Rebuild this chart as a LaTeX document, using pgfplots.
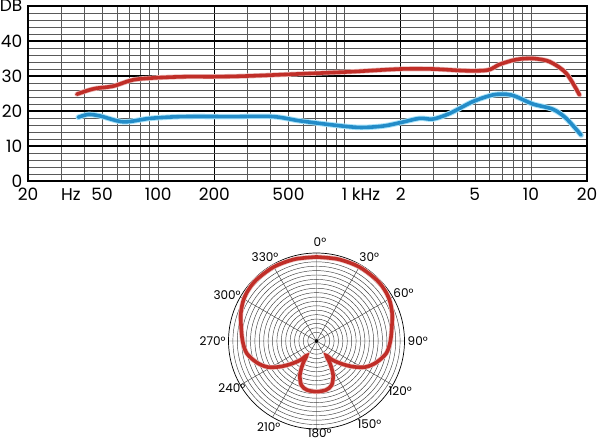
\documentclass[border=0pt]{standalone}
\usepackage{fontspec}
\setmainfont{Poppins}
\usepackage{pgfplots}
\pgfplotsset{compat=1.18}
\usepgfplotslibrary{polar}
\definecolor{curvered}{RGB}{192,46,40}
\definecolor{curveblue}{RGB}{35,140,200}
\begin{document}
\begin{tikzpicture}
\useasboundingbox (0,0) rectangle (600pt,442pt);
\begin{axis}[
  at={(28pt,261pt)}, anchor=south west,
  scale only axis, width=559pt, height=175pt,
  xmode=log, xmin=20, xmax=20000, ymin=0, ymax=50,
  xtick={200,2000}, xticklabels={200,2},
  extra x ticks={20,50,100,500,1000,5000,10000,20000},
  extra x tick labels={20,50,100,500,1\rlap{ kHz},5,10,20},
  extra x tick style={grid=none},
  minor xtick={30,40,50,60,70,80,90,100,300,400,500,600,700,800,900,1000,3000,4000,5000,6000,7000,8000,9000,10000},
  xmajorgrids=true, xminorgrids=true,
  ytick={0,10,20,30,40,50}, yticklabels={0,10,20,30,40,DB},
  minor ytick={2,4,6,8,12,14,16,18,22,24,26,28,32,34,36,38,42,44,46,48},
  ymajorgrids=true, yminorgrids=true,
  major grid style={black, line width=1.6pt},
  minor grid style={black!65, line width=0.5pt},
  tick style={draw=none},
  axis line style={black, line width=1.5pt},
  ticklabel style={font=\fontsize{17}{18}\selectfont},
  xticklabel style={inner sep=0pt, yshift=-7pt},
  yticklabel style={inner sep=0pt, xshift=-5.5pt},
  /pgf/number format/assume math mode=true,
  clip=false,
]
\addplot[curvered!35, line width=5pt, smooth, line cap=round] table {
36.6 24.8
42 25.9
46.7 26.5
57.3 27.1
73.3 28.9
97.9 29.5
141 29.8
200 29.8
300 30.0
574 30.6
1065 31.2
2000 32.0
2980 32.0
4500 31.5
5880 31.7
6790 33.3
8340 34.7
10240 35.0
12590 34.1
15460 30.8
18230 24.6
};
\addplot[curvered, line width=3.6pt, smooth, line cap=round] table {
36.6 24.8
42 25.9
46.7 26.5
57.3 27.1
73.3 28.9
97.9 29.5
141 29.8
200 29.8
300 30.0
574 30.6
1065 31.2
2000 32.0
2980 32.0
4500 31.5
5880 31.7
6790 33.3
8340 34.7
10240 35.0
12590 34.1
15460 30.8
18230 24.6
};
\addplot[cyan!35, line width=5.5pt, smooth, line cap=round] table {
37.2 18.2
42 19.0
48.6 18.6
65.1 16.9
90.6 17.9
136 18.4
251 18.4
413 18.4
574 17.2
867 16.0
1206 15.3
1609 15.7
2000 16.7
2529 17.9
2980 17.7
3664 19.3
4885 22.7
6250 24.6
7380 24.8
8340 24.1
10240 22.0
13120 20.5
15460 17.9
18610 13.1
};
\addplot[curveblue, line width=3.6pt, smooth, line cap=round] table {
37.2 18.2
42 19.0
48.6 18.6
65.1 16.9
90.6 17.9
136 18.4
251 18.4
413 18.4
574 17.2
867 16.0
1206 15.3
1609 15.7
2000 16.7
2529 17.9
2980 17.7
3664 19.3
4885 22.7
6250 24.6
7380 24.8
8340 24.1
10240 22.0
13120 20.5
15460 17.9
18610 13.1
};
\node[anchor=north, inner sep=0pt, yshift=-7pt, font=\fontsize{17}{18}\selectfont] at (axis cs:34,0) {Hz};
\end{axis}

\begin{polaraxis}[
  at={(316.5pt,101pt)}, anchor=center,
  scale only axis, width=176pt, height=176pt,
  xmin=0, xmax=360, ymin=0, ymax=1,
  xtick={0,30,...,330}, xticklabels={},
  ytick={0.1,0.15,0.2,0.25,0.3,0.35,0.4,0.45,0.5,0.55,0.6,0.65,0.7,0.75,0.8,0.85,0.9,0.95},
  yticklabels={},
  xmajorgrids=true, ymajorgrids=true,
  major grid style={black!75, line width=0.45pt},
  tick style={draw=none},
  axis line style={black, line width=0.7pt},
  y axis line style={draw=none},
  clip=false,
]
\addplot[curvered!30, line width=5pt, smooth] coordinates {
(90,0.955) (75,0.962) (60,0.972) (45,0.975) (35,0.965) (28,0.947) (20,0.915) (12,0.877)
(0,0.840) (350,0.805) (340,0.72) (332,0.63) (325,0.51) (318,0.39) (310,0.28) (304,0.20)
(301,0.30) (296,0.43) (289,0.53) (281,0.567) (270,0.576) (259,0.567) (251,0.53) (244,0.43)
(239,0.30) (236,0.20) (230,0.28) (222,0.39) (215,0.51) (208,0.63) (200,0.72) (190,0.805)
(180,0.840) (168,0.877) (160,0.915) (152,0.947) (145,0.965) (135,0.975) (120,0.972) (105,0.962) (90,0.955)
};
\addplot[curvered, line width=3.6pt, smooth] coordinates {
(90,0.955) (75,0.962) (60,0.972) (45,0.975) (35,0.965) (28,0.947) (20,0.915) (12,0.877)
(0,0.840) (350,0.805) (340,0.72) (332,0.63) (325,0.51) (318,0.39) (310,0.28) (304,0.20)
(301,0.30) (296,0.43) (289,0.53) (281,0.567) (270,0.576) (259,0.567) (251,0.53) (244,0.43)
(239,0.30) (236,0.20) (230,0.28) (222,0.39) (215,0.51) (208,0.63) (200,0.72) (190,0.805)
(180,0.840) (168,0.877) (160,0.915) (152,0.947) (145,0.965) (135,0.975) (120,0.972) (105,0.962) (90,0.955)
};
\addplot[only marks, mark=*, mark size=1.6pt, black] coordinates {(0,0)};
\begin{scope}[every node/.style={font=\fontsize{12}{13}\selectfont, inner sep=0pt}]
\node at (axis cs:88,1.125) {0°};
\node at (axis cs:58,1.13) {30°};
\node at (axis cs:29,1.13) {60°};
\node at (axis cs:0,1.15) {90°};
\node at (axis cs:-31,1.11) {120°};
\node at (axis cs:-57.5,1.12) {150°};
\node at (axis cs:-88,1.05) {180°};
\node at (axis cs:-119,1.12) {210°};
\node at (axis cs:-151,1.10) {240°};
\node at (axis cs:180,1.18) {270°};
\node at (axis cs:153,1.14) {300°};
\node at (axis cs:121.5,1.12) {330°};
\end{scope}
\end{polaraxis}
\end{tikzpicture}
\end{document}
